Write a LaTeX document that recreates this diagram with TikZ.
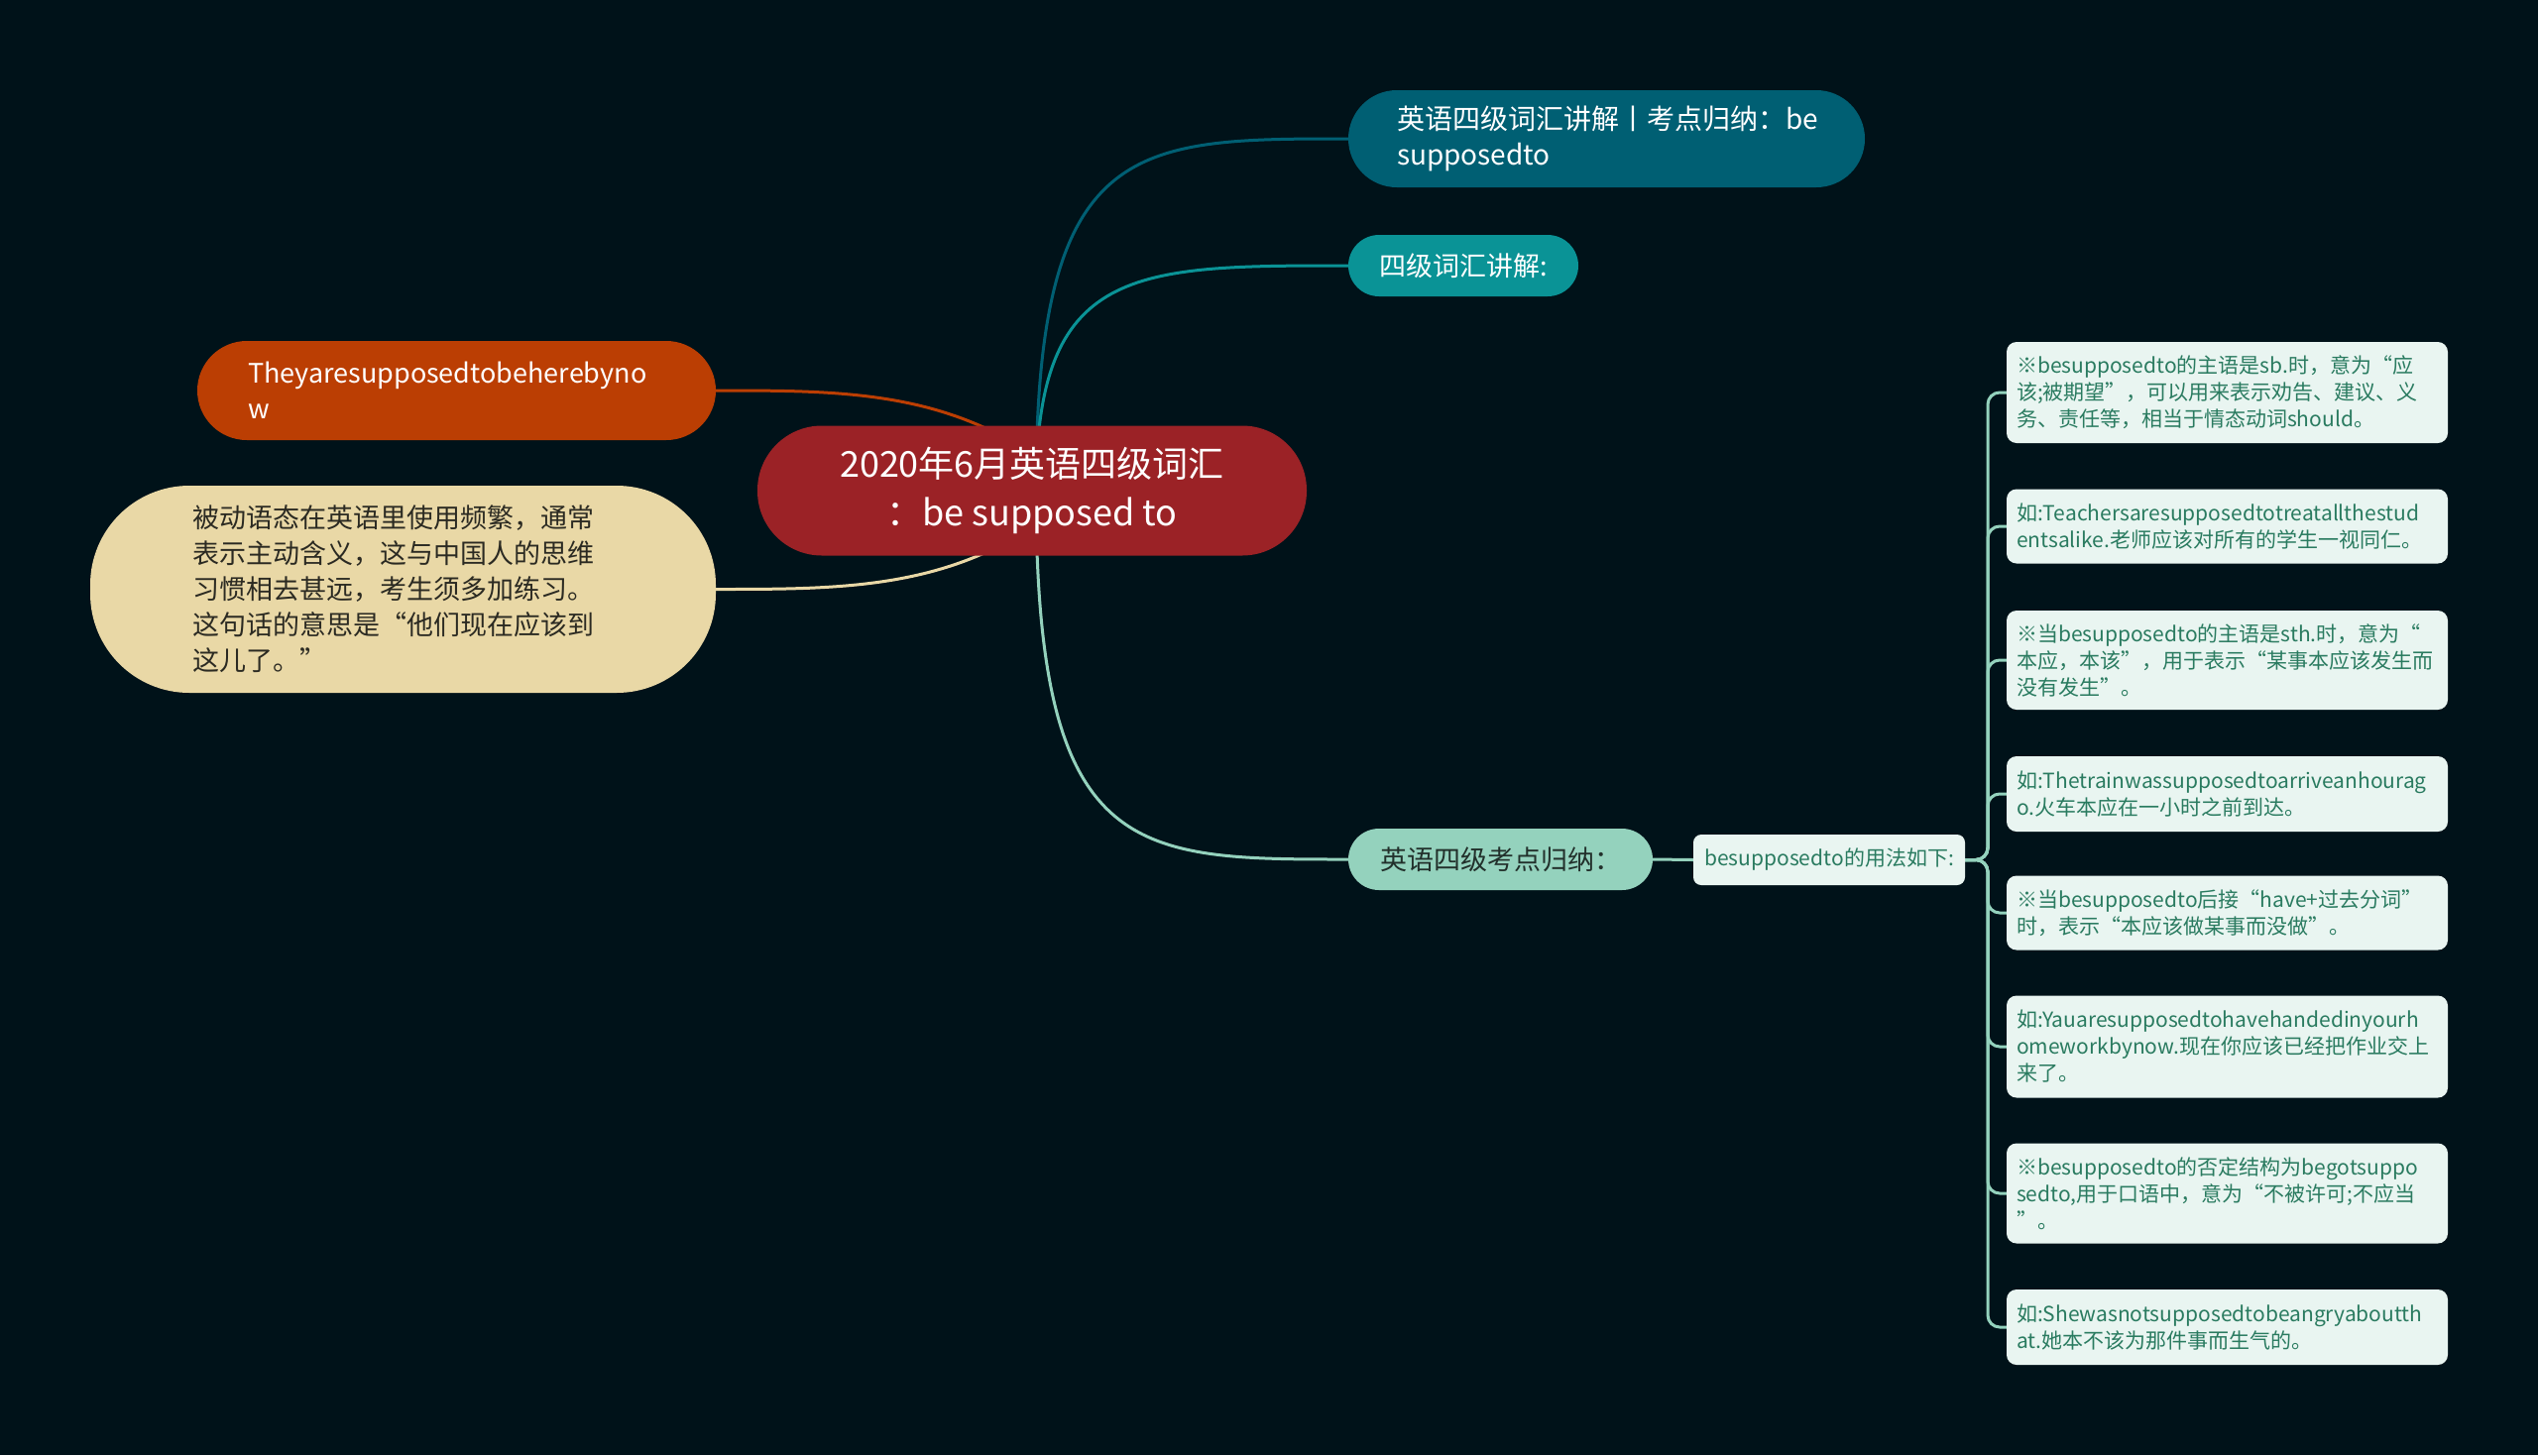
\documentclass[tikz,border=0pt]{standalone}
\usepackage{fontspec}
\setmainfont{Noto Sans CJK SC}
\usetikzlibrary{calc}
\definecolor{cBg}{HTML}{001219}
\definecolor{cRed}{HTML}{9B2226}
\definecolor{cTealA}{HTML}{005F73}
\definecolor{cTealB}{HTML}{0A9396}
\definecolor{cMint}{HTML}{94D2BD}
\definecolor{cBeige}{HTML}{E9D8A6}
\definecolor{cOrange}{HTML}{BB3E03}
\definecolor{cLeaf}{HTML}{E9F5F1}
\definecolor{cLeafText}{HTML}{2A7B60}
\definecolor{cDarkText}{HTML}{22302B}
\definecolor{cBeigeText}{HTML}{2B2A22}
\pgfdeclarelayer{back}
\pgfdeclarelayer{lines}
\pgfsetlayers{back,lines,main}
\tikzset{
  centralbox/.style={fill=cRed, text=white, rounded corners=65pt, minimum width=554pt, minimum height=131pt, align=center, inner sep=0pt, font=\fontsize{36}{49}\selectfont},
  topbox/.style={fill=cTealA, text=white, rounded corners=49pt, minimum height=98pt, text width=423pt, inner xsep=49pt, inner ysep=0pt, align=left, font=\fontsize{28}{36}\selectfont},
  midbox/.style={fill=cTealB, text=white, rounded corners=31pt, minimum width=232pt, minimum height=62pt, inner sep=0pt, font=\fontsize{27}{36}\selectfont},
  mintbox/.style={fill=cMint, text=cDarkText, rounded corners=31pt, minimum width=307pt, minimum height=62pt, inner sep=0pt, font=\fontsize{27}{36}\selectfont},
  subbox/.style={fill=cLeaf, text=cLeafText, rounded corners=8pt, minimum width=274pt, minimum height=51pt, inner sep=0pt, font=\fontsize{21}{27}\selectfont},
  leafbox/.style={fill=cLeaf, text=cLeafText, rounded corners=10pt, text width=425pt, inner xsep=10pt, inner ysep=6pt, align=left, font=\fontsize{21}{27}\selectfont},
  orangebox/.style={fill=cOrange, text=white, rounded corners=50pt, minimum height=100pt, text width=421pt, inner xsep=51pt, inner ysep=0pt, align=left, font=\fontsize{27}{36}\selectfont},
  beigebox/.style={fill=cBeige, text=cBeigeText, rounded corners=100pt, minimum height=209pt, text width=425pt, inner xsep=103pt, inner ysep=0pt, align=left, font=\fontsize{27}{36}\selectfont},
  link/.style={line width=3pt},
  bracket/.style={line width=3pt, draw=cMint, rounded corners=12pt},
}
\begin{document}
\begin{tikzpicture}[x=1pt,y=-1pt]
\begin{pgfonlayer}{back}
\fill[cBg] (0,0) rectangle (2560,1468);
\end{pgfonlayer}
\useasboundingbox (0,0) rectangle (2560,1468);

\node[centralbox] (c) at (1041,495) {2020年6月英语四级词汇\\：be supposed to};
\node[topbox] (n1) at (1620.5,140) {英语四级词汇讲解丨考点归纳：be\\supposedto};
\node[midbox] (n2) at (1476,268) {四级词汇讲解:};
\node[mintbox] (n3) at (1513.5,867) {英语四级考点归纳：};
\node[subbox] (n4) at (1845,867.5) {besupposedto的用法如下:};
\node[orangebox] (o) at (460.5,394) {Theyaresupposedtobeherebyno\\w};
\node[beigebox] (b) at (406.5,594.5) {被动语态在英语里使用频繁，通常\\表示主动含义，这与中国人的思维\\习惯相去甚远，考生须多加练习。\\这句话的意思是“他们现在应该到\\这儿了。”};

\node[leafbox, minimum height=102pt] (l1) at (2246.5,396) {※besupposedto的主语是sb.时，意为“应\\该;被期望”，可以用来表示劝告、建议、义\\务、责任等，相当于情态动词should。};
\node[leafbox, minimum height=75pt] (l2) at (2246.5,531) {如:Teachersaresupposedtotreatallthestud\\entsalike.老师应该对所有的学生一视同仁。};
\node[leafbox, minimum height=100pt] (l3) at (2246.5,666) {※当besupposedto的主语是sth.时，意为“\\本应，本该”，用于表示“某事本应该发生而\\没有发生”。};
\node[leafbox, minimum height=76pt] (l4) at (2246.5,801) {如:Thetrainwassupposedtoarriveanhourag\\o.火车本应在一小时之前到达。};
\node[leafbox, minimum height=75pt] (l5) at (2246.5,921) {※当besupposedto后接“have+过去分词”\\时，表示“本应该做某事而没做”。};
\node[leafbox, minimum height=103pt] (l6) at (2246.5,1056) {如:Yauaresupposedtohavehandedinyourh\\omeworkbynow.现在你应该已经把作业交上\\来了。};
\node[leafbox, minimum height=101pt] (l7) at (2246.5,1204) {※besupposedto的否定结构为begotsuppo\\sedto,用于口语中，意为“不被许可;不应当\\”。};
\node[leafbox, minimum height=76pt] (l8) at (2246.5,1339) {如:Shewasnotsupposedtobeangryaboutth\\at.她本不该为那件事而生气的。};

\coordinate (br) at (2005,867.5);
\begin{pgfonlayer}{lines}
\draw[link, cTealA] ([xshift=4pt]c.center) .. controls ([xshift=4pt]c.center |- n1.west) and ([xshift=102pt]c.center |- n1.west) .. (n1.west);
\draw[link, cTealB] ([xshift=4pt]c.center) .. controls ([xshift=4pt]c.center |- n2.west) and ([xshift=102pt]c.center |- n2.west) .. (n2.west);
\draw[link, cMint] ([xshift=4pt]c.center) .. controls ([xshift=4pt]c.center |- n3.west) and ([xshift=102pt]c.center |- n3.west) .. (n3.west);
\draw[link, cOrange] ([xshift=-5pt,yshift=40pt]c.center) .. controls ([xshift=-100pt]c.center |- o.east) and ([xshift=-200pt]c.center |- o.east) .. (o.east);
\draw[link, cBeige] ([xshift=-5pt,yshift=-40pt]c.center) .. controls ([xshift=-100pt]c.center |- b.east) and ([xshift=-200pt]c.center |- b.east) .. (b.east);
\draw[link, cMint] (n3.east) -- (n4.west);
\foreach \l in {l1,l2,l3,l4,l5,l6,l7,l8}{
  \draw[bracket] (n4.east) -- (br) |- (\l.west);
}
\end{pgfonlayer}
\end{tikzpicture}
\end{document}
